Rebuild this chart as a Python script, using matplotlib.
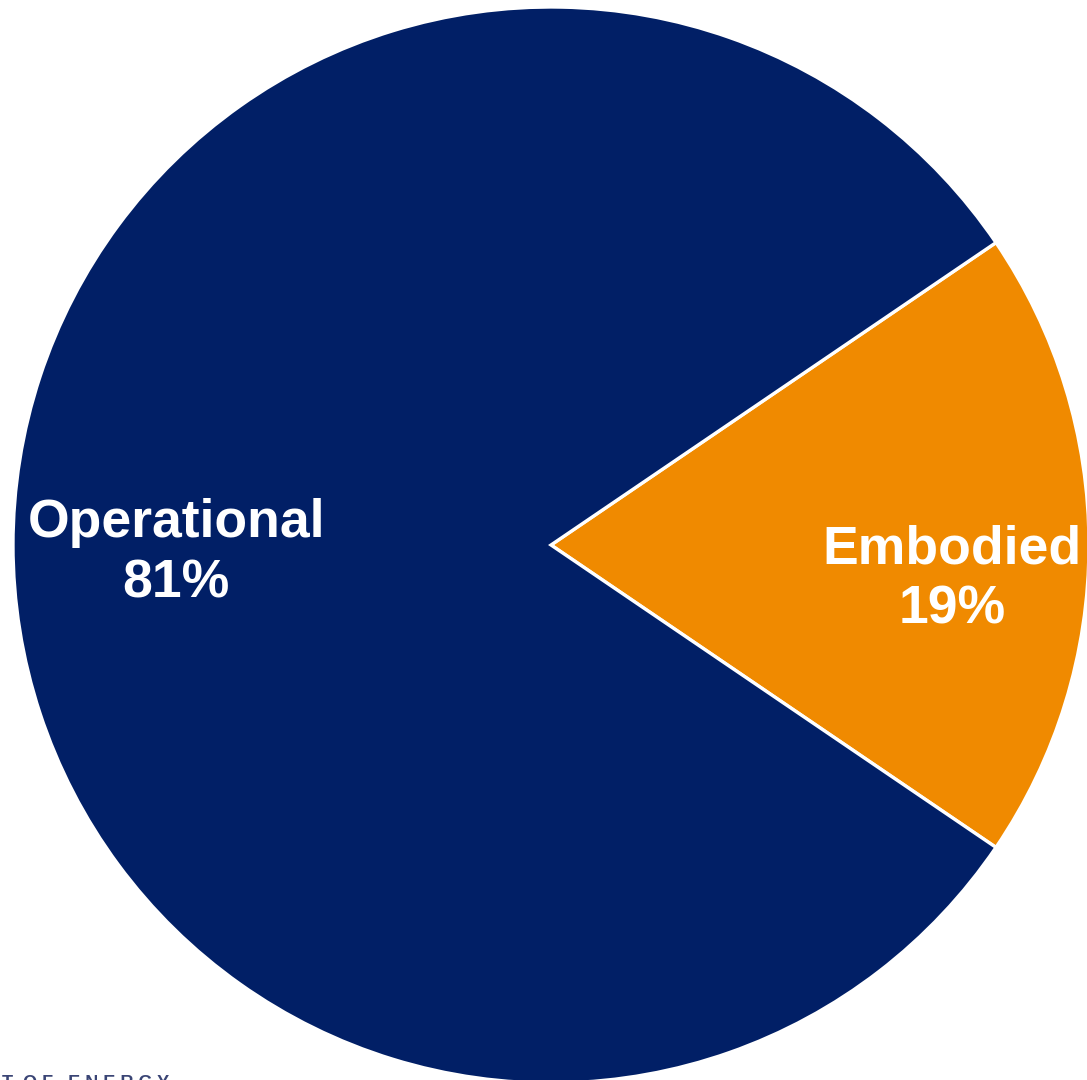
import matplotlib
matplotlib.use("Agg")
import matplotlib.pyplot as plt

categories = ["Embodied", "Operational"]
shares = [19, 81]
colors = ["#F08A00", "#011F66"]

W, H = 1087, 1080
fig = plt.figure(figsize=(W / 100, H / 100), dpi=100)
ax = fig.add_axes([0, 0, 1, 1])

cx, cy, r = 551, H - 545, 538
ax.pie(shares, colors=colors, startangle=-34.2, counterclock=True,
       center=(cx, cy), radius=r,
       wedgeprops=dict(edgecolor="white", linewidth=2.4))

ax.set_xlim(0, W)
ax.set_ylim(0, H)
ax.set_aspect("equal")
ax.axis("off")

font = dict(family=["Liberation Sans", "DejaVu Sans"], weight="bold",
            color="white", fontsize=38.5, ha="center")
# Labels: label line and percentage line
ax.text(176, H - 537, categories[1], va="baseline", **font)
ax.text(176, H - 597, f"{shares[1]}%", va="baseline", **font)
ax.text(952, H - 563, categories[0], va="baseline", **font)
ax.text(952, H - 623, f"{shares[0]}%", va="baseline", **font)

ax.text(2, H - 1075, "T  O F   E N E R G Y", va="top", ha="left",
        color="#3A4575", fontsize=13, fontweight="bold",
        family=["Liberation Sans", "DejaVu Sans"])

fig.savefig("out.png", dpi=100)
